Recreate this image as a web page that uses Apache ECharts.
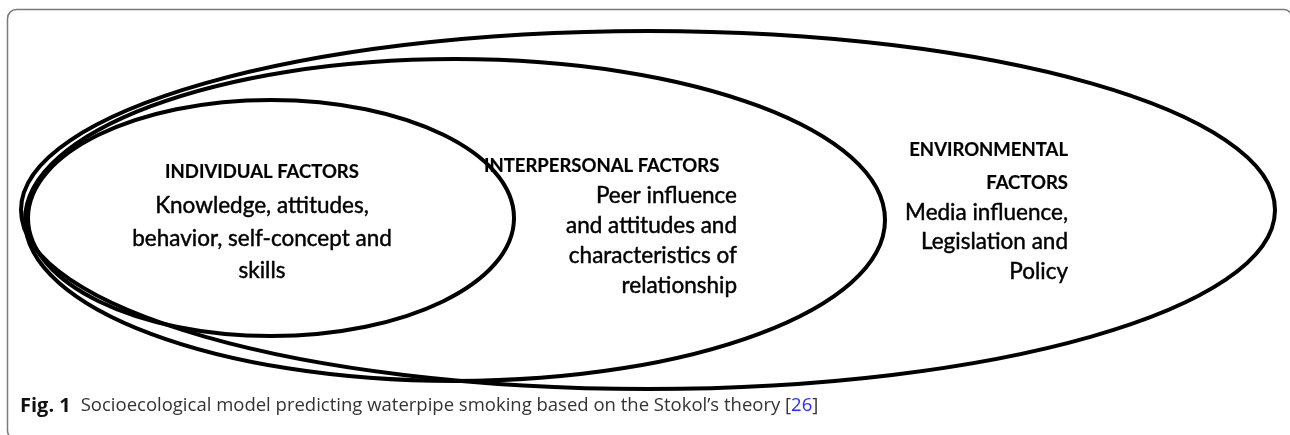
<!DOCTYPE html>
<html>
<head>
<meta charset="utf-8">
<script src="https://cdn.jsdelivr.net/npm/echarts@6/dist/echarts.min.js"></script>
<style>
html,body{margin:0;padding:0;background:#fff;}
#chart{width:1290px;height:435px;}
</style>
</head>
<body>
<div id="chart"></div>
<script>
// Ellipse geometry (diagram units): name, centre x, centre y, radius x, radius y
var ellipseNames = ['Environmental', 'Interpersonal', 'Individual'];
var ellipseCx = [648, 455, 271];
var ellipseCy = [210, 220, 218];
var ellipseRx = [627, 430, 243];
var ellipseRy = [179, 161, 118];

// Text blocks: lines, anchor x, line y, alignment
var indivLines = ['INDIVIDUAL FACTORS', 'Knowledge, attitudes,', 'behavior, self-concept and', 'skills'];
var indivBold = [true, false, false, false];
var indivX = 262, indivY = [172, 206, 239, 271];

var interLines = ['INTERPERSONAL FACTORS', 'Peer influence', 'and attitudes and', 'characteristics of', 'relationship'];
var interBold = [true, false, false, false, false];
var interX = [484, 737, 737, 737, 737], interY = [166, 196, 226, 256, 286];
var interAlign = ['left', 'right', 'right', 'right', 'right'];

var envLines = ['ENVIRONMENTAL', 'FACTORS', 'Media influence,', 'Legislation and', 'Policy'];
var envBold = [true, true, false, false, false];
var envX = 1068, envY = [150, 183, 213, 242, 272];

var captionBold = 'Fig. 1';
var captionText = 'Socioecological model predicting waterpipe smoking based on the Stokol\u2019s theory [';
var captionRef = '26';

var FONT = 'Lato, "Open Sans", sans-serif';

var ellipseData = ellipseNames.map(function (n, i) {
  return [ellipseCx[i], ellipseCy[i], ellipseRx[i], ellipseRy[i]];
});

var textData = [];
indivLines.forEach(function (t, i) { textData.push([indivX, indivY[i], t, indivBold[i] ? 1 : 0, 'center']); });
interLines.forEach(function (t, i) { textData.push([interX[i], interY[i], t, interBold[i] ? 1 : 0, interAlign[i]]); });
envLines.forEach(function (t, i) { textData.push([envX, envY[i], t, envBold[i] ? 1 : 0, 'right']); });

var chart = echarts.init(document.getElementById('chart'));
chart.setOption({
  animation: false,
  backgroundColor: '#ffffff',
  grid: { left: 0, right: 0, top: 0, bottom: 0 },
  xAxis: { type: 'value', min: 0, max: 1290, show: false },
  yAxis: { type: 'value', min: 0, max: 435, inverse: true, show: false },
  title: {
    left: 15, top: 391,
    text: '{b|' + captionBold + '}  {r|' + captionText + '}{l|' + captionRef + '}{r|]}',
    textStyle: {
      rich: {
        b: { fontFamily: '"Open Sans", sans-serif', fontWeight: 'bold', fontSize: 20, color: '#111' },
        r: { fontFamily: '"Open Sans", sans-serif', fontWeight: 'normal', fontSize: 18.5, color: '#333' },
        l: { fontFamily: '"Open Sans", sans-serif', fontWeight: 'normal', fontSize: 18.5, color: '#2a2aff' }
      }
    }
  },
  graphic: [{
    type: 'rect',
    shape: { x: 7.5, y: 9.5, width: 1285, height: 430, r: 9 },
    style: { fill: 'none', stroke: '#7a7a7a', lineWidth: 1.5 },
    z: 0
  }],
  series: [{
    type: 'custom',
    coordinateSystem: 'cartesian2d',
    data: ellipseData,
    renderItem: function (params, api) {
      var c = api.coord([api.value(0), api.value(1)]);
      var s = api.size([api.value(2), api.value(3)]);
      return {
        type: 'ellipse',
        shape: { cx: c[0], cy: c[1], rx: s[0], ry: s[1] },
        style: { fill: 'none', stroke: '#000', lineWidth: 4 }
      };
    },
    z: 2
  }, {
    type: 'custom',
    coordinateSystem: 'cartesian2d',
    data: textData,
    renderItem: function (params, api) {
      var d = textData[params.dataIndex];
      var c = api.coord([d[0], d[1]]);
      return {
        type: 'text',
        x: c[0], y: c[1],
        style: {
          text: d[2],
          fill: '#000',
          stroke: '#000',
          lineWidth: d[3] ? 0.2 : 0.45,
          font: (d[3] ? 'bold 18.5px ' : 'normal 22.5px ') + FONT,
          align: d[4],
          verticalAlign: 'middle'
        }
      };
    },
    z: 3
  }]
});
</script>
</body>
</html>
